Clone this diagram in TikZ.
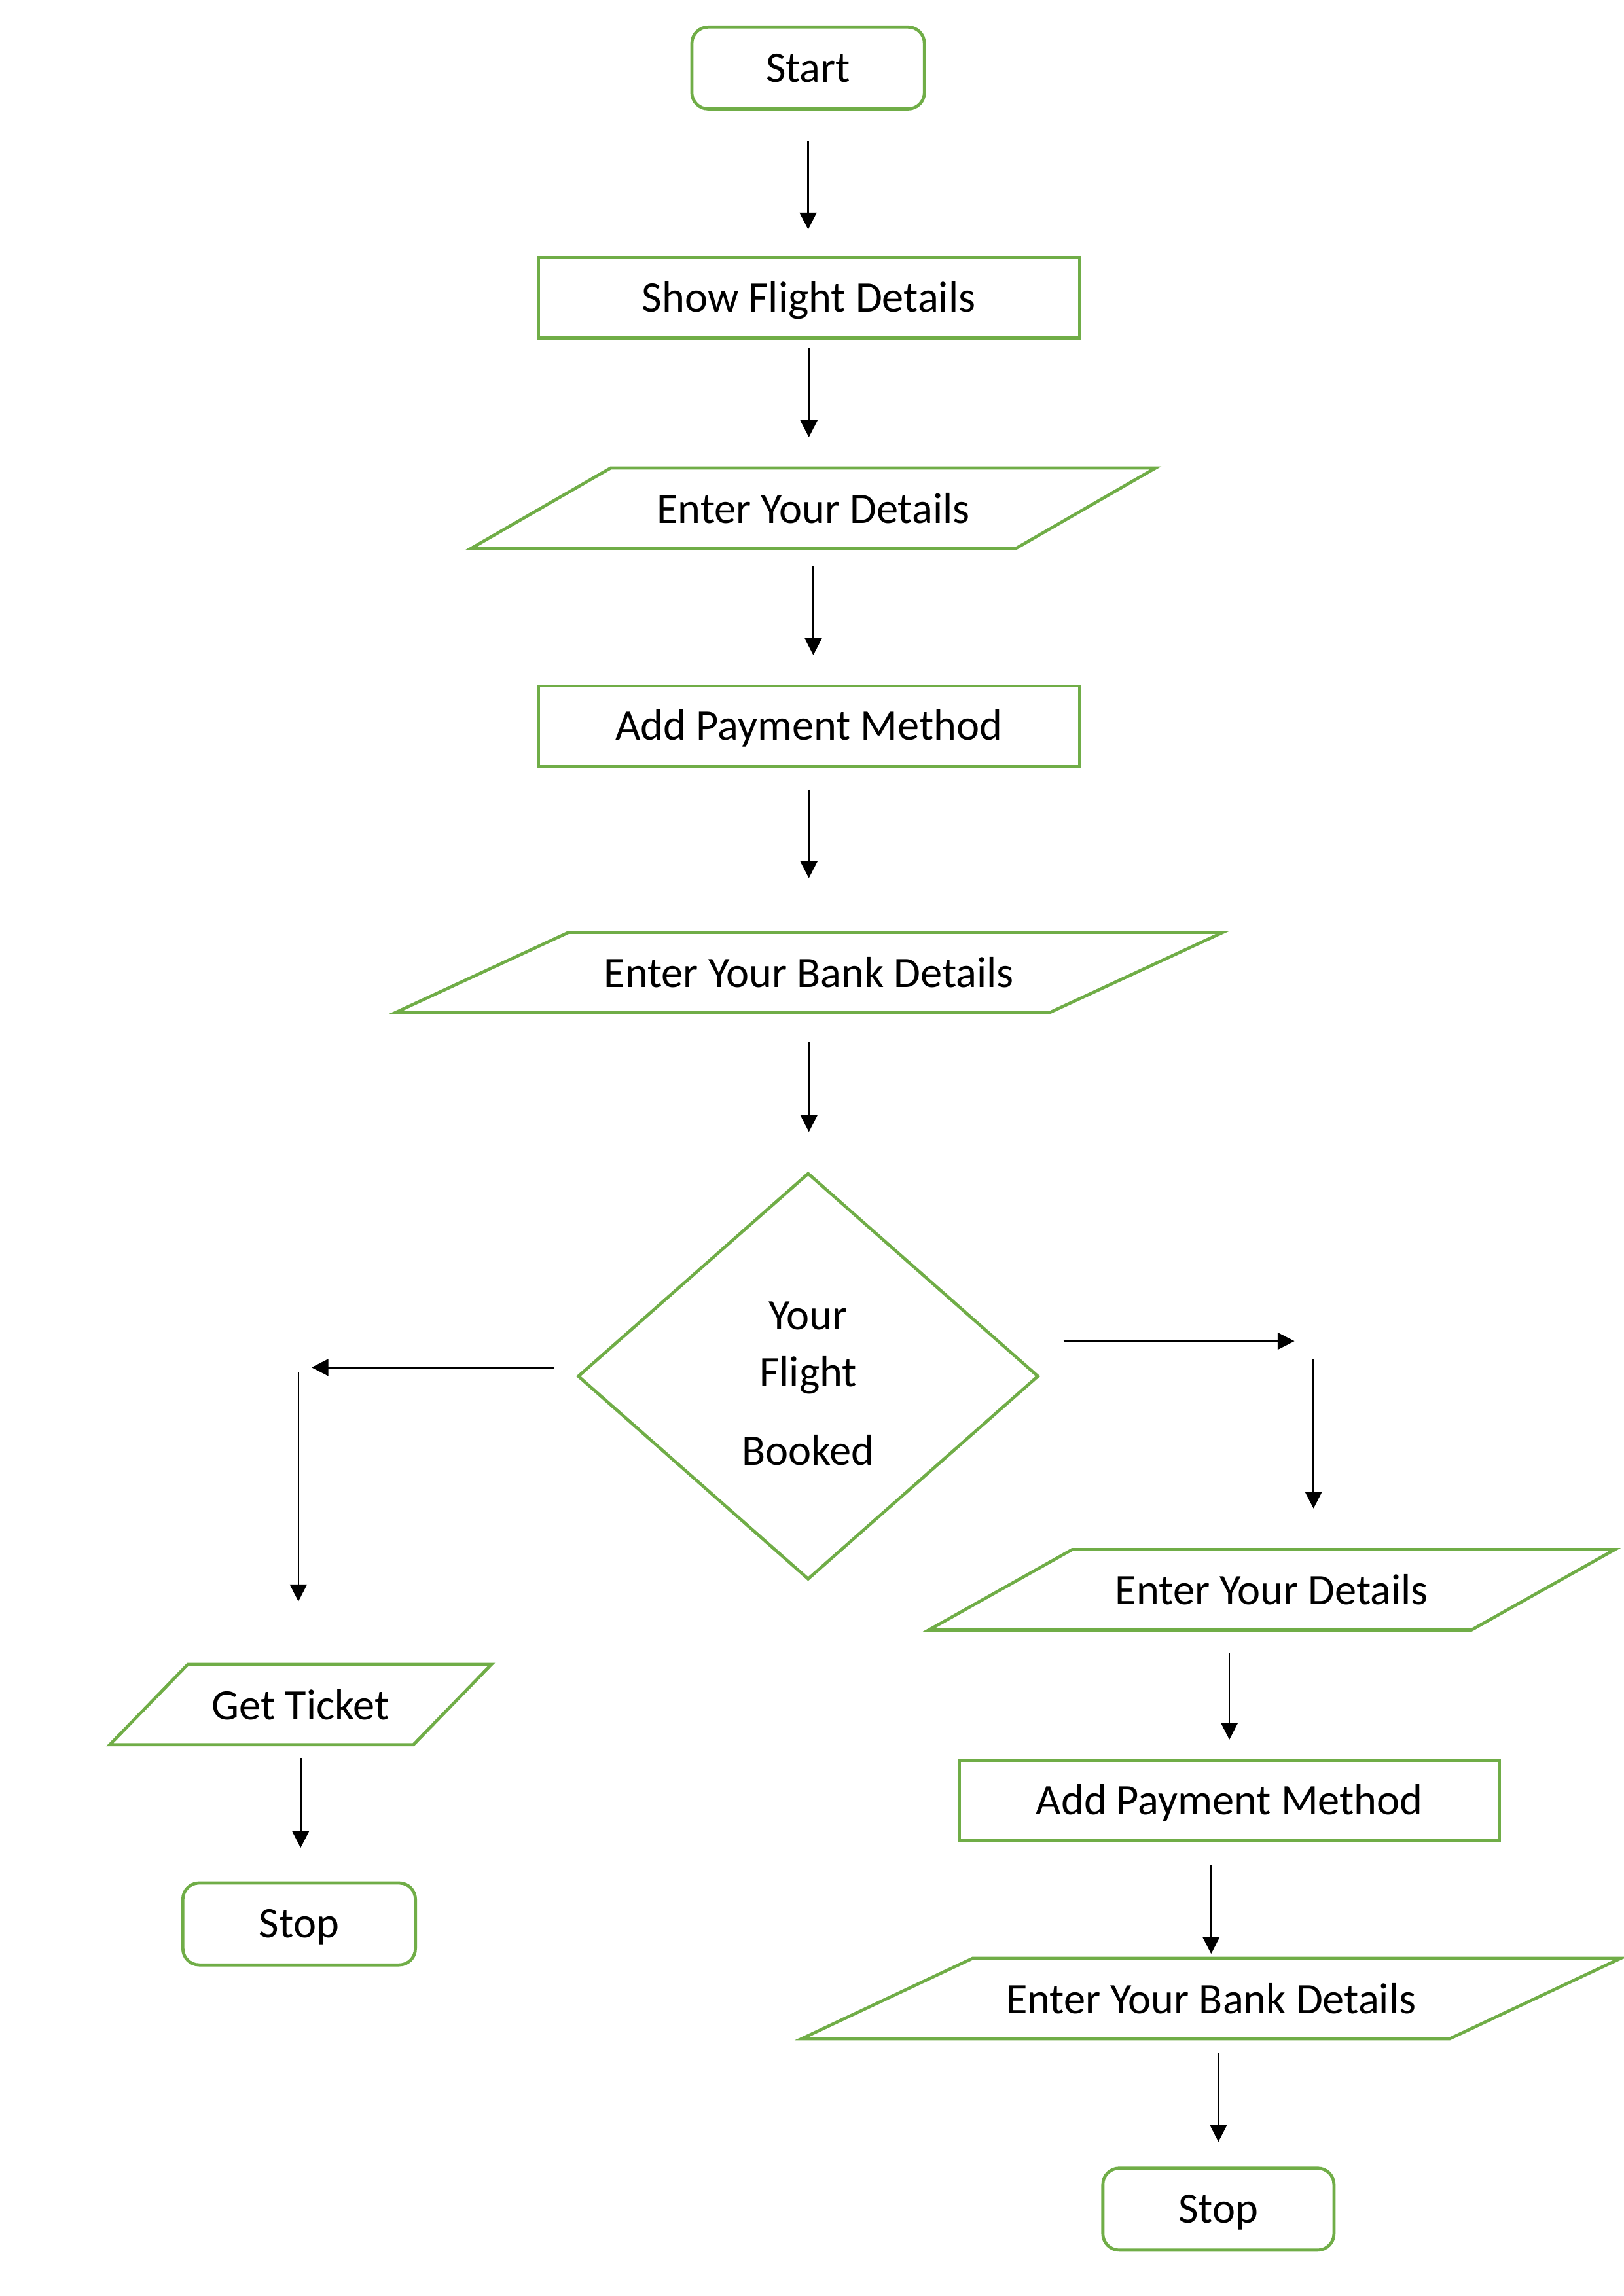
\documentclass[tikz,border=0pt]{standalone}
\usepackage{fontspec}
\setmainfont{Carlito}
\usetikzlibrary{shapes.geometric,arrows.meta,calc}
\definecolor{boxgreen}{HTML}{70AD47}
\newcommand\pxu{0.0189189cm}
\tikzset{
  box/.style={draw=boxgreen, line width=1.15pt, minimum height=55*\pxu, inner sep=2pt,
    font=\fontsize{16}{21}\selectfont},
  term/.style={box, rounded corners=6pt, minimum width=159*\pxu, minimum height=56*\pxu,
    text height=12pt, text depth=1.7pt},
  proc/.style={box, minimum width=370*\pxu, text height=12pt, text depth=1.7pt},
  io/.style n args={3}{box, trapezium, trapezium stretches body,
    trapezium left angle=#1, trapezium right angle=#2, minimum width=#3*\pxu},
  dec/.style={box, diamond, minimum width=315*\pxu, minimum height=278*\pxu,
    align=center, inner sep=0pt},
  flow/.style={-{Triangle[length=6.2pt,width=6.2pt]}, line width=0.64pt}
}
\begin{document}
\begin{tikzpicture}[x=\pxu, y=-\pxu]
\useasboundingbox (0,0) rectangle (1110,1569.9);
\node[term] (start) at (552.5,46.5) {Start};
\node[proc] (show) at (553,203.5) {Show Flight Details};
\node[io={16.5}{163.5}{468}] (enter) at (556,347.5) {Enter Your Details};
\node[proc] (pay) at (553,496.5) {Add Payment Method};
\node[io={13.4}{166.6}{566}] (bank) at (553,665) {Enter Your Bank Details};
\node[dec] (booked) at (552.5,941) {\rule{0pt}{15.7pt}Your\\Flight\\[8pt]Booked};
\node[io={27.9}{152.1}{261}] (ticket) at (205.5,1165.5) {Get Ticket};
\node[term] (stopL) at (204.5,1315.5) {Stop};
\node[io={16.1}{163.9}{469}] (enterR) at (869.5,1087) {Enter Your Details};
\node[proc, minimum width=369*\pxu] (payR) at (840.5,1231) {Add Payment Method};
\node[io={13.6}{166.4}{560}] (bankR) at (828,1366.5) {Enter Your Bank Details};
\node[term, minimum width=158*\pxu] (stopR) at (833,1510.5) {Stop};

\foreach \a/\b/\s/\e in {start/show/21/18, show/enter/6/20, enter/pay/11/20,
  pay/bank/15/36, bank/booked/19/27, ticket/stopL/8/23}
\draw[flow, shorten <=\s*\pxu, shorten >=\e*\pxu] (\a.south) -- (\a.south |- \b.north);
\foreach \a/\b/\s/\e in {enterR/payR/15/13, payR/bankR/16/2, bankR/stopR/9/17}
\draw[flow, shorten <=\s*\pxu, shorten >=\e*\pxu] (\b.north |- \a.south) -- (\b.north);

\coordinate (noA) at ([shift={(-15,-6)}]booked.west);
\coordinate (noB) at (213,935);
\coordinate (noC) at (204,938);
\coordinate (yesA) at ([shift={(16,-24)}]booked.east);
\coordinate (yesB) at (885,917);
\coordinate (yesC) at (898,929);
\draw[flow] (noA) -- (noB);
\draw[flow, shorten >=42*\pxu] (noC) -- (noC |- ticket.north);
\draw[flow] (yesA) -- (yesB);
\draw[flow, shorten >=27*\pxu] (yesC) -- (yesC |- enterR.north);
\end{tikzpicture}
\end{document}
